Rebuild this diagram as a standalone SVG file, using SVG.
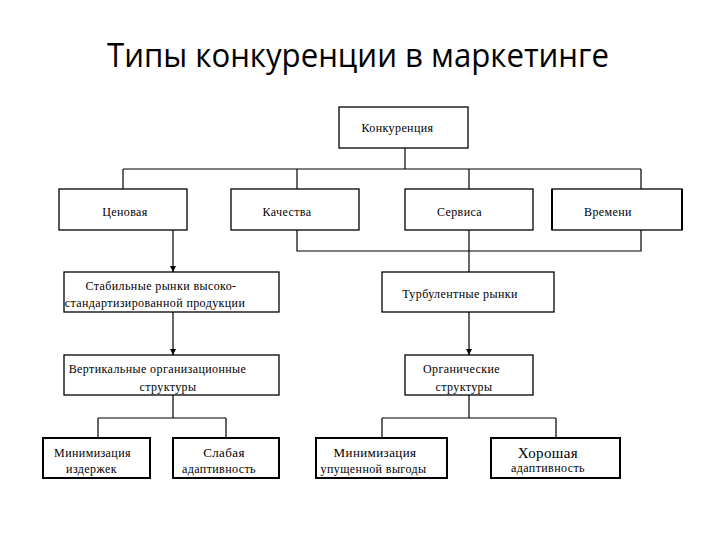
<svg xmlns="http://www.w3.org/2000/svg" width="720" height="540" viewBox="0 0 720 540">
<style>
.bx{fill:#fff;stroke:#000;stroke-width:1.3}
.bk{fill:#fff;stroke:#000;stroke-width:2}
.t{font-family:'Liberation Serif','Times New Roman',serif;font-size:12px;letter-spacing:0.4px;fill:#000}
.c{text-anchor:middle}
.ln{fill:none;stroke:#000;stroke-width:1.2}
.ttl{font-family:'Open Sans','Noto Sans','DejaVu Sans',sans-serif;font-size:32px;fill:#000}
</style>
<defs>
<marker id="ah" viewBox="0 0 10 10" refX="10" refY="5" markerWidth="6" markerHeight="6" orient="auto" markerUnits="userSpaceOnUse">
<path d="M0,0L10,5L0,10z" fill="#000"/>
</marker>
</defs>
<rect width="720" height="540" fill="#fff"/>
<text class="ttl" x="107" y="67" textLength="502" lengthAdjust="spacingAndGlyphs">Типы конкуренции в маркетинге</text>

<g id="connectors">
<path class="ln" d="M405,148V169M123,169H641M123,169V189M297,169V189M469,169V189M641,169V189"/>
<path class="ln" d="M297,230V251H641V230"/>
<path class="ln" d="M469,230V272"/>
<path class="ln" d="M173,230V272" marker-end="url(#ah)"/>
<path class="ln" d="M173,312V355" marker-end="url(#ah)"/>
<path class="ln" d="M469,312V355" marker-end="url(#ah)"/>
<path class="ln" d="M173,395V418M98,418H226M98,418V438M226,418V438"/>
<path class="ln" d="M469,395V418M382,418H556M382,418V438M556,418V438"/>
</g>

<g id="n-konk">
<rect class="bx" x="339" y="107" width="129" height="41"/>
<text class="t c" x="397.5" y="132">Конкуренция</text>
</g>
<g id="n-cen">
<rect class="bx" x="59" y="189" width="128" height="41"/>
<text class="t c" x="125" y="216">Ценовая</text>
</g>
<g id="n-kach">
<rect class="bx" x="231" y="189" width="128" height="41"/>
<text class="t c" x="287" y="216">Качества</text>
</g>
<g id="n-serv">
<rect class="bx" x="405" y="189" width="128" height="41"/>
<text class="t c" x="459.5" y="216">Сервиса</text>
</g>
<g id="n-vrem">
<rect class="bx" x="552" y="189" width="130" height="41"/>
<path d="M552,189V230M682,189V230" stroke="#000" stroke-width="2"/>
<text class="t c" x="608" y="216">Времени</text>
</g>
<g id="n-stab">
<rect class="bx" x="64" y="272" width="215" height="40"/>
<text class="t c" x="161" y="290">Стабильные рынки высоко-</text>
<text class="t c" x="155" y="307">стандартизированной продукции</text>
</g>
<g id="n-turb">
<rect class="bx" x="382" y="272" width="172" height="40"/>
<text class="t c" x="460" y="298">Турбулентные рынки</text>
</g>
<g id="n-vert">
<rect class="bx" x="64" y="355" width="215" height="40"/>
<text class="t c" x="157.5" y="373">Вертикальные организационные</text>
<text class="t c" x="168" y="391">структуры</text>
</g>
<g id="n-org">
<rect class="bx" x="405" y="355" width="128" height="40"/>
<text class="t c" x="461.5" y="373">Органические</text>
<text class="t c" x="464" y="391">структуры</text>
</g>
<g id="n-min1">
<rect class="bk" x="43" y="438" width="107" height="40"/>
<text class="t c" x="92.5" y="457">Минимизация</text>
<text class="t c" x="91.5" y="473">издержек</text>
</g>
<g id="n-slab">
<rect class="bk" x="173" y="438" width="106" height="40"/>
<text class="t c" x="224" y="457" style="font-size:13px">Слабая</text>
<text class="t c" x="219" y="473">адаптивность</text>
</g>
<g id="n-min2">
<rect class="bk" x="316" y="438" width="131" height="40"/>
<text class="t c" x="375" y="457" style="font-size:13px">Минимизация</text>
<text class="t c" x="373.5" y="473">упущенной выгоды</text>
</g>
<g id="n-hor">
<rect class="bk" x="491" y="438" width="129" height="40"/>
<text class="t c" x="548" y="458" style="font-size:15px">Хорошая</text>
<text class="t c" x="548" y="472">адаптивность</text>
</g>
</svg>
